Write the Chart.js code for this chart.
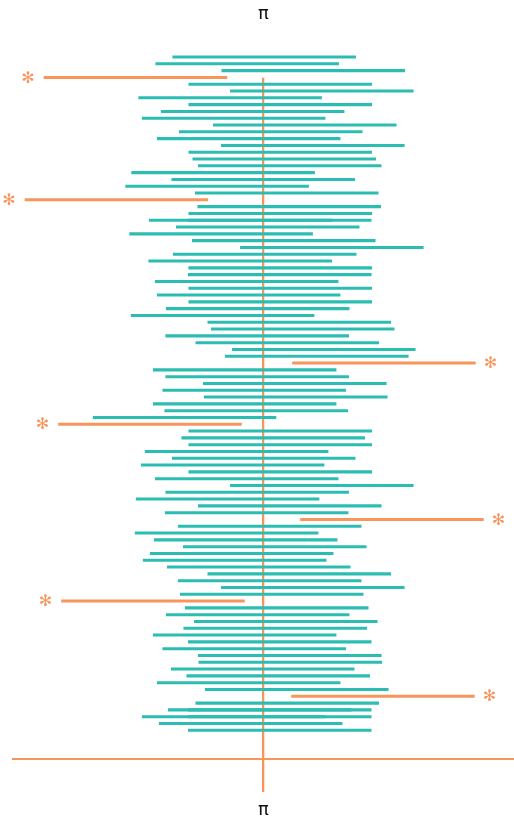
<!DOCTYPE html>
<html><head><meta charset="utf-8">
<style>html,body{margin:0;padding:0;background:#fff}#wrap{width:514px;height:820px}</style>
<script src="https://cdn.jsdelivr.net/npm/chart.js@4.4.1/dist/chart.umd.min.js"></script>
</head><body><div id="wrap"><canvas id="c" width="514" height="820"></canvas></div>
<script>
const TRUE_VALUE = Math.PI;
const MARGIN = 0.1825;
const estimates = [
 3.143,3.109,3.241,2.886,3.175,3.258,3.075,3.175,3.120,3.082,
 3.224,3.156,3.112,3.240,3.175,3.183,3.194,3.061,3.141,3.049,
 3.188,2.848,3.193,3.175,3.174,3.150,3.057,3.182,3.278,3.144,
 3.095,3.175,3.174,3.108,3.175,3.112,3.175,3.130,3.060,3.213,
 3.220,3.129,3.189,3.262,3.248,3.382,3.104,3.129,3.204,3.123,
 3.206,3.104,3.127,2.984,2.915,3.175,3.161,3.175,3.088,3.142,
 3.080,3.175,3.108,3.258,3.129,3.070,3.194,3.128,3.398,3.154,
 3.068,3.106,3.164,3.098,3.084,3.132,3.213,3.154,3.240,3.158,
 2.921,3.168,3.130,3.186,3.165,3.104,3.174,3.123,3.194,3.195,
 3.140,3.171,3.112,3.208,3.380,3.189,3.174,3.174,3.116,3.174
];
const extraSampleIds = [25, 97, 98];
const extraEstimates = [3.096, 3.134, 3.082];
const xTickValues = [TRUE_VALUE];
const xTickLabels = ['π'];
const titleText = 'π';

const TEAL = '#2cbdb2';
const ORANGE = '#f7955b';

const sampleIds = estimates.map((_, i) => i + 1);
const covers = e => e - MARGIN <= TRUE_VALUE && e + MARGIN >= TRUE_VALUE;
const toBars = (ids, ests) => ids.map((id, i) => ({x: [ests[i] - MARGIN, ests[i] + MARGIN], y: id, est: ests[i]}));
const colorFor = c => (c.raw && !covers(c.raw.est)) ? ORANGE : TEAL;

const missMarker = {
  id: 'missMarker',
  afterDatasetsDraw(chart) {
    const ctx = chart.ctx, xs = chart.scales.x, ys = chart.scales.y;
    ctx.save();
    ctx.fillStyle = ORANGE;
    ctx.font = '16px "DejaVu Sans"';
    ctx.textAlign = 'center';
    ctx.textBaseline = 'middle';
    chart.data.datasets.forEach(ds => {
      ds.data.forEach(d => {
        if (covers(d.est)) return;
        const left = d.est < TRUE_VALUE;
        const px = left ? xs.getPixelForValue(d.x[0]) - 16 : xs.getPixelForValue(d.x[1]) + 15;
        ctx.fillText('✻', px, ys.getPixelForValue(d.y) + 1);
      });
    });
    ctx.restore();
  }
};

const common = {backgroundColor: colorFor, barThickness: 2.4, maxBarThickness: 2.4, borderWidth: 0, clip: false, grouped: false};

new Chart(document.getElementById('c'), {
  type: 'bar',
  data: {
    datasets: [
      Object.assign({label: 'intervals', data: toBars(sampleIds, estimates)}, common),
      Object.assign({label: 'overlap', data: toBars(extraSampleIds, extraEstimates)}, common)
    ]
  },
  options: {
    indexAxis: 'y',
    responsive: false,
    animation: false,
    devicePixelRatio: 1,
    layout: {padding: {left: 13, right: 0, top: 0, bottom: 0}},
    plugins: {
      legend: {display: false},
      tooltip: {enabled: false},
      title: {display: true, text: titleText, color: '#111',
        font: {size: 18, family: 'DejaVu Sans', weight: 'normal'},
        padding: {top: 4, bottom: 52.1}}
    },
    scales: {
      x: {
        type: 'linear', position: 'bottom',
        min: TRUE_VALUE - 0.5, max: TRUE_VALUE + 0.5,
        afterBuildTicks: s => { s.ticks = xTickValues.map(v => ({value: v})); },
        afterFit: s => { s.height = 61; },
        grid: {display: true, drawOnChartArea: true, drawTicks: true, tickLength: 33, color: ORANGE, lineWidth: 2.3},
        border: {display: true, color: ORANGE, width: 2},
        ticks: {autoSkip: false, maxRotation: 0, padding: 8, color: '#111',
          font: {size: 18, family: 'DejaVu Sans'},
          callback: (v, i) => xTickLabels[i]}
      },
      y: {type: 'linear', reverse: true, offset: false, min: 4.04, max: 104.22, display: false}
    }
  },
  plugins: [missMarker]
});
</script>
</body></html>
